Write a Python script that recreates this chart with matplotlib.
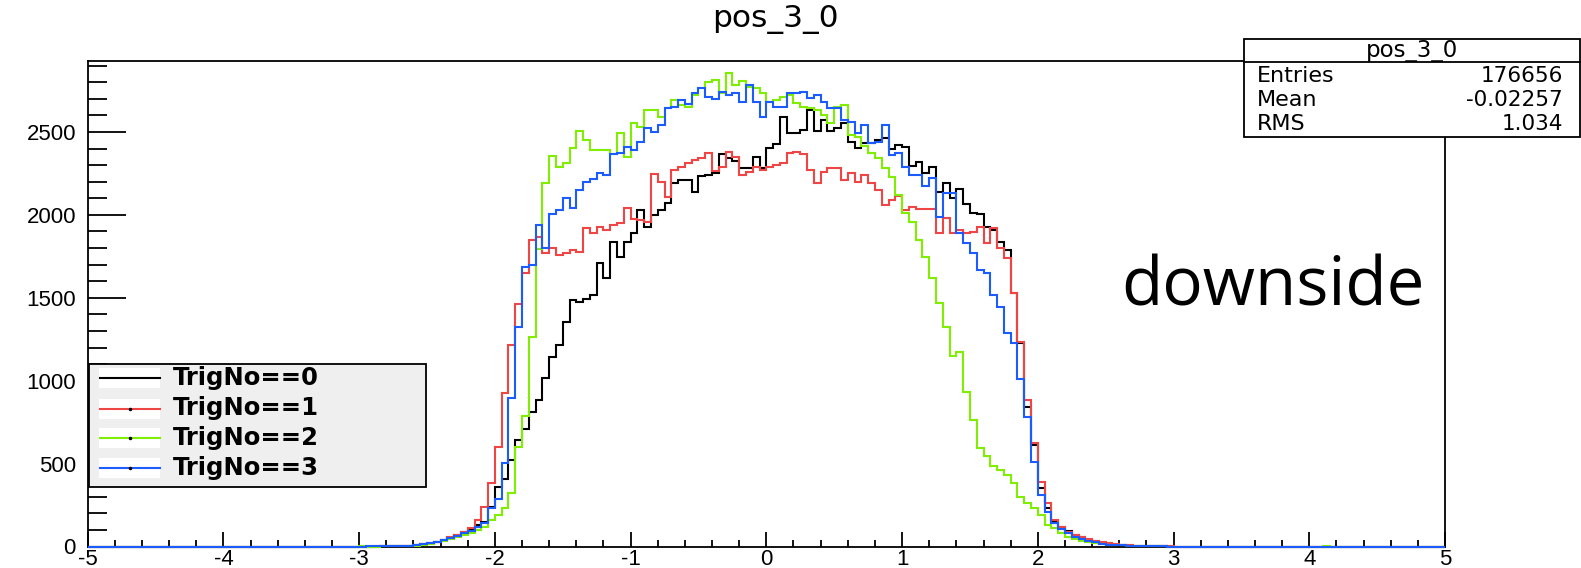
import numpy as np
import matplotlib
matplotlib.use("Agg")
import matplotlib.pyplot as plt
from matplotlib.patches import Rectangle
from matplotlib.lines import Line2D
from matplotlib.ticker import MultipleLocator

plt.rcParams['axes.unicode_minus'] = False

# ---------------- data (bin width 0.05, first listed bin starts at -3.0) ----------------
bin_width = 0.05
x_first = -3.0

trig0 = [0, 0, 0, 1, 2, 3, 4, 6, 9, 13, 19, 28,
         40, 52, 68, 85, 100, 128, 150, 240,
         361, 405, 522, 643, 707, 813, 884, 1014, 1145, 1215,
         1356, 1487, 1477, 1491, 1517, 1708, 1618, 1839, 1748, 1839,
         1889, 2030, 1929, 2000, 2030, 2070, 2190, 2210, 2210, 2140,
         2234, 2240, 2250, 2365, 2341, 2325, 2281, 2281, 2351, 2281,
         2401, 2427, 2592, 2496, 2496, 2512, 2633, 2508, 2572, 2508,
         2522, 2552, 2442, 2401, 2431, 2431, 2452, 2462, 2400, 2421,
         2407, 2295, 2321, 2251, 2287, 2140, 2194, 2100, 2154, 2066,
         2009, 2005, 1929, 1909, 1839, 1788, 1527, 1230, 844, 612,
         350, 230, 150, 118, 92, 72, 55, 42, 32, 24,
         17, 12, 9, 6, 4, 3, 2, 1, 1, 0]

trig1 = [0, 0, 1, 1, 2, 3, 4, 6, 9, 14, 20, 30,
         42, 55, 70, 90, 110, 160, 240, 385,
         602, 924, 1215, 1463, 1648, 1849, 1869, 1772, 1798, 1758,
         1772, 1788, 1778, 1919, 1889, 1929, 1909, 1939, 1950, 2040,
         1975, 1969, 1959, 2245, 2200, 2110, 2271, 2291, 2311, 2331,
         2341, 2371, 2265, 2290, 2381, 2351, 2241, 2261, 2287, 2271,
         2287, 2301, 2315, 2371, 2381, 2367, 2271, 2190, 2261, 2281,
         2281, 2210, 2251, 2200, 2241, 2190, 2150, 2060, 2090, 2114,
         2030, 2046, 2034, 2034, 2034, 1893, 1979, 1893, 1909, 1893,
         1899, 1929, 1828, 1919, 1798, 1738, 1527, 1236, 884, 622,
         391, 261, 160, 115, 89, 69, 55, 43, 33, 27,
         20, 16, 12, 8, 6, 4, 3, 2, 1, 1]

trig2 = [2, 0, 0, 1, 1, 2, 3, 4, 6, 10, 16, 25,
         35, 45, 56, 70, 80, 100, 120, 160,
         190, 230, 320, 600, 787, 1262, 1792, 2194, 2357, 2291,
         2311, 2401, 2506, 2452, 2391, 2391, 2391, 2365, 2496, 2347,
         2552, 2532, 2633, 2633, 2592, 2643, 2693, 2663, 2653, 2723,
         2763, 2803, 2813, 2733, 2854, 2783, 2809, 2773, 2763, 2733,
         2683, 2693, 2713, 2723, 2673, 2653, 2643, 2633, 2602, 2552,
         2653, 2663, 2482, 2468, 2415, 2375, 2341, 2281, 2226, 2120,
         2009, 1959, 1849, 1748, 1617, 1467, 1326, 1149, 1175, 934,
         763, 592, 546, 486, 462, 432, 381, 301, 265, 231,
         190, 130, 110, 80, 60, 45, 35, 28, 22, 16,
         12, 9, 7, 5, 3, 2, 2, 1, 1, 0]
trig2_extra_x = [4.10]
trig2_extra_val = [4]

trig3 = [0, 1, 1, 2, 2, 3, 4, 6, 9, 13, 19, 28,
         40, 50, 65, 84, 96, 120, 140, 230,
         285, 502, 894, 1326, 1688, 1698, 1939, 1798, 2005, 2030,
         2100, 2040, 2150, 2200, 2214, 2255, 2240, 2367, 2375, 2411,
         2391, 2441, 2522, 2502, 2542, 2643, 2653, 2693, 2669, 2733,
         2763, 2709, 2697, 2743, 2723, 2733, 2683, 2783, 2683, 2592,
         2683, 2653, 2653, 2733, 2733, 2743, 2703, 2723, 2683, 2643,
         2643, 2572, 2562, 2492, 2542, 2436, 2442, 2542, 2361, 2371,
         2291, 2241, 2241, 2174, 2220, 1989, 2130, 2130, 1889, 1829,
         1768, 1668, 1648, 1517, 1447, 1286, 1226, 1008, 783, 512,
         311, 210, 140, 105, 80, 60, 45, 35, 25, 18,
         12, 9, 7, 5, 3, 2, 2, 1, 1, 0]

series = [trig0, trig1, trig2, trig3]
series_labels = ["TrigNo==0", "TrigNo==1", "TrigNo==2", "TrigNo==3"]
series_colors = ["#000000", "#f04545", "#80ee00", "#1a5cff"]

title_text = "pos_3_0"
stats_rows = [("Entries", "176656"), ("Mean", "-0.02257"), ("RMS", "1.034")]
annotation = "downside"

x_range = (-5, 5)
y_top = 2925

# ---------------- figure ----------------
W, H = 1581, 568
fig = plt.figure(figsize=(W / 100, H / 100), dpi=100)
fig.patch.set_facecolor("white")


def fx(px):
    return px / W


def fy(py):
    return 1 - py / H


ax_l, ax_r, ax_t, ax_b = 87.7, 1445.0, 61.5, 546.5
ax = fig.add_axes([fx(ax_l), fy(ax_b), (ax_r - ax_l) / W, (ax_b - ax_t) / H])

nbins = int(round((x_range[1] - x_range[0]) / bin_width))
edges = np.linspace(x_range[0], x_range[1], nbins + 1)
i0 = int(round((x_first - x_range[0]) / bin_width))

for k, (vals, col) in enumerate(zip(series, series_colors)):
    full = np.zeros(nbins)
    full[i0:i0 + len(vals)] = vals
    if k == 2:
        for xe, ve in zip(trig2_extra_x, trig2_extra_val):
            full[int(round((xe - x_range[0]) / bin_width))] = ve
    ax.stairs(full, edges, color=col, lw=1.5, zorder=3 + k, clip_on=False)

ax.set_xlim(*x_range)
ax.set_ylim(0, y_top)
ax.xaxis.set_major_locator(MultipleLocator(1))
ax.xaxis.set_minor_locator(MultipleLocator(0.2))
ax.yaxis.set_major_locator(MultipleLocator(500))
ax.yaxis.set_minor_locator(MultipleLocator(100))
for s in ax.spines.values():
    s.set_linewidth(1.3)
    s.set_color("black")
ax.tick_params(which="both", direction="in", top=False, right=False, width=1.3)
ax.tick_params(axis="x", which="major", length=10.8, pad=1.5, labelsize=16)
ax.tick_params(axis="x", which="minor", length=5.0)
ax.tick_params(axis="y", which="major", length=27, pad=8.5, labelsize=16)
ax.tick_params(axis="y", which="minor", length=14)
for lab in ax.get_xticklabels() + ax.get_yticklabels():
    lab.set_fontfamily("Liberation Sans")

# title
fig.text(fx(775), fy(19), title_text, ha="center", va="center",
         fontsize=22.5, family="DejaVu Sans")

# stats box
sb_l, sb_r, sb_t, sb_b = 1244, 1580, 39, 137
fig.add_artist(Rectangle((fx(sb_l), fy(sb_b)), (sb_r - sb_l) / W, (sb_b - sb_t) / H,
                         transform=fig.transFigure, facecolor="white",
                         edgecolor="black", lw=1.3, zorder=10))
fig.add_artist(Line2D([fx(sb_l), fx(sb_r)], [fy(62), fy(62)],
                      transform=fig.transFigure, color="black", lw=1.3, zorder=11))
fig.text(fx((sb_l + sb_r) / 2), fy(50), title_text, ha="center", va="center",
         fontsize=16.5, family="DejaVu Sans", zorder=12)
for r, (name, val) in enumerate(stats_rows):
    yy = fy(76.5 + r * 23.8)
    fig.text(fx(1257), yy, name, ha="left", va="center", fontsize=16,
             family="DejaVu Sans", zorder=12)
    fig.text(fx(1563), yy, val, ha="right", va="center", fontsize=15.5,
             family="DejaVu Sans", zorder=12)

# legend
lg_l, lg_r, lg_t, lg_b = 89, 426, 364, 487
fig.add_artist(Rectangle((fx(lg_l), fy(lg_b)), (lg_r - lg_l) / W, (lg_b - lg_t) / H,
                         transform=fig.transFigure, facecolor="#efefef",
                         edgecolor="black", lw=1.3, zorder=10))
row_y = [378, 408.5, 438, 468]
for k, (lab, col) in enumerate(zip(series_labels, series_colors)):
    yy = row_y[k]
    fig.add_artist(Rectangle((fx(99), fy(yy + 10)), 61 / W, 20 / H,
                             transform=fig.transFigure, facecolor="white",
                             edgecolor="none", zorder=11))
    fig.add_artist(Line2D([fx(100), fx(160)], [fy(yy), fy(yy)],
                          transform=fig.transFigure, color=col, lw=1.5, zorder=12))
    if k > 0:
        fig.add_artist(Line2D([fx(130)], [fy(yy)], transform=fig.transFigure,
                              marker="o", ms=1.5, color="black", lw=0, zorder=13))
    fig.text(fx(173), fy(yy), lab, ha="left", va="center", fontsize=17.5,
             fontweight="bold", family="DejaVu Sans", zorder=12)

# annotation
fig.text(fx(1121), fy(306), annotation, ha="left", va="baseline",
         fontsize=48.5, family="Open Sans", zorder=12)

fig.savefig("out.png", dpi=100, facecolor="white")
